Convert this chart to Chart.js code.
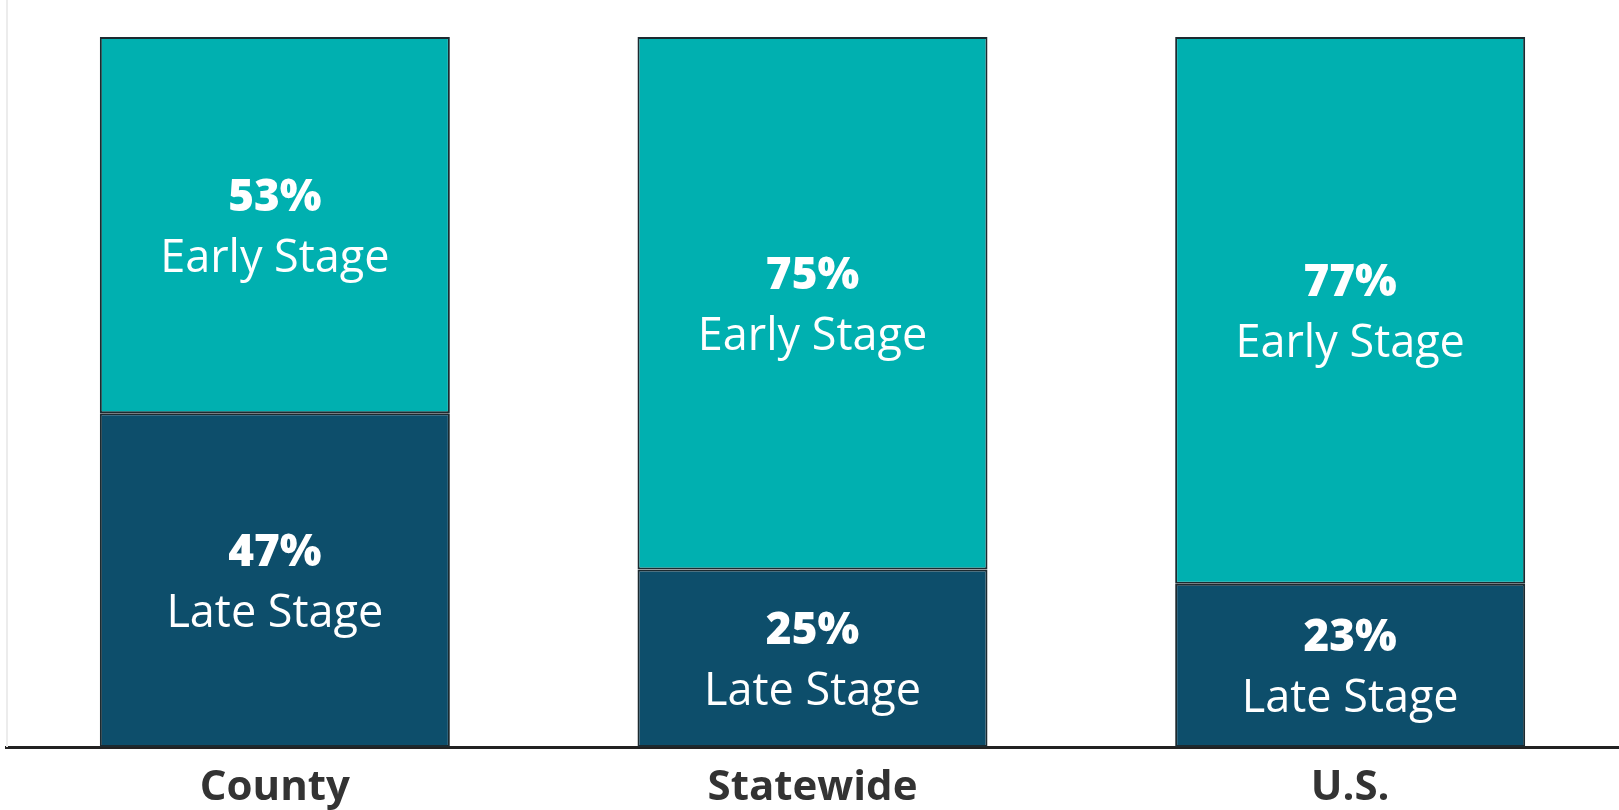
<!DOCTYPE html>
<html>
<head>
<meta charset="utf-8">
<script src="https://cdn.jsdelivr.net/npm/chart.js@4/dist/chart.umd.min.js"></script>
<style>
html,body{margin:0;padding:0;background:#fff}
#wrap{width:1619px;height:810px;position:relative}
</style>
</head>
<body>
<div id="wrap"><canvas id="mainChart"></canvas></div>
<script>
const categories=["County","Statewide","U.S."]
const lateStage=[47,25,23]
const earlyStage=[53,75,77]
const stageNames=["Late Stage","Early Stage"]

const tealColor="#00b0b0"
const navyColor="#0d4e6b"

// text inside each bar segment: bold percent + stage name
const segmentLabels={
id:"segmentLabels",
afterDatasetsDraw(chart){
const ctx=chart.ctx
ctx.save()
ctx.fillStyle="#ffffff"
ctx.textAlign="center"
ctx.textBaseline="alphabetic"
chart.data.datasets.forEach((ds,i)=>{
const meta=chart.getDatasetMeta(i)
meta.data.forEach((bar,j)=>{
const mid=(bar.y+bar.base)/2
ctx.font="800 44px 'Open Sans'"
ctx.fillText(ds.data[j]+"%",bar.x,mid-14)
ctx.font="500 45px 'Open Sans'"
ctx.fillText(ds.label,bar.x,mid+47)
})
})
ctx.restore()
}
}

// faint left edge line
const leftEdge={
id:"leftEdge",
beforeDatasetsDraw(chart){
const ctx=chart.ctx
const a=chart.chartArea
ctx.save()
ctx.strokeStyle="#ececec"
ctx.lineWidth=2
ctx.beginPath()
ctx.moveTo(a.left+1,0)
ctx.lineTo(a.left+1,a.bottom)
ctx.stroke()
ctx.restore()
}
}

const ctx=document.getElementById("mainChart")

new Chart(ctx,{
type:"bar",
data:{
labels:categories,
datasets:[{
label:stageNames[0],
data:lateStage,
backgroundColor:navyColor,
borderColor:"#1c2a30",
borderWidth:2,
borderSkipped:false
},{
label:stageNames[1],
data:earlyStage,
backgroundColor:tealColor,
borderColor:"#1c2a30",
borderWidth:2,
borderSkipped:false
}]
},
options:{
responsive:true,
maintainAspectRatio:false,
animation:false,
categoryPercentage:1,
barPercentage:0.651,
layout:{padding:{top:37,left:6,right:0,bottom:0}},
plugins:{legend:{display:false},tooltip:{enabled:false}},
scales:{
x:{
stacked:true,
grid:{display:false,drawTicks:false},
border:{display:true,color:"#222222",width:3},
afterFit(scale){scale.height=63},
ticks:{
padding:20,
color:"#333333",
font:{family:"'Open Sans'",size:42,weight:"bold",lineHeight:1}
}
},
y:{
stacked:true,
display:false,
min:0,
max:100
}
}
},
plugins:[leftEdge,segmentLabels]
})
</script>
</body>
</html>
